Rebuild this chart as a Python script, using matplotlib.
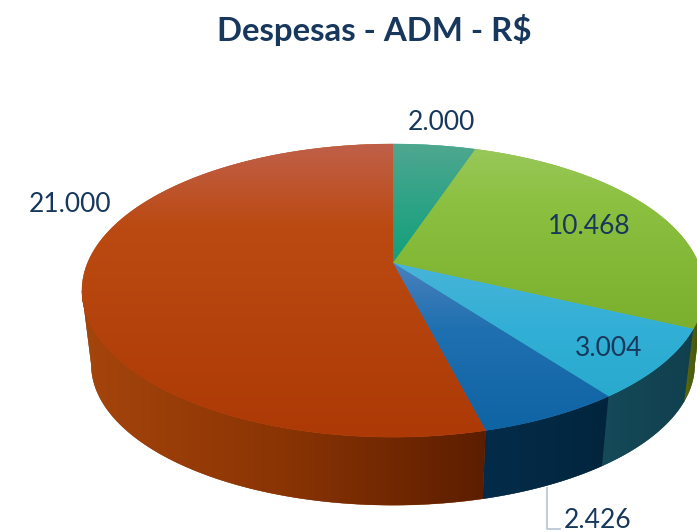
import matplotlib
matplotlib.use('Agg')
import matplotlib.pyplot as plt
import numpy as np
from matplotlib.colors import LinearSegmentedColormap
from matplotlib.patches import Polygon

# valores das despesas, sentido horario a partir do topo
valores = [2000, 10468, 3004, 2426, 21000]
rotulos = ['2.000', '10.468', '3.004', '2.426', '21.000']
titulo = 'Despesas - ADM - R$'

# cores do topo (de cima para baixo) e da lateral (da esquerda para a direita)
cores_topo = [
    [(0, '#4fa78f'), (0.5, '#2ea386'), (1, '#12a07a')],
    [(0, '#98c85a'), (0.3, '#8cc040'), (1, '#7ab02e')],
    [(0, '#48b4d8'), (0.5, '#32afd6'), (1, '#28aacd')],
    [(0, '#4a80bd'), (0.4, '#1f70b0'), (1, '#0f64a4')],
    [(0, '#c0604a'), (0.28, '#bb4a12'), (1, '#ad3a06')],
]
cores_lado = [
    ['#0b5a48', '#0b5a48'],
    ['#5a6a10', '#3e4c08'],
    ['#154a58', '#113f4e'],
    ['#042c4a', '#02253d'],
    ['#a5450c', '#8a3404', '#5c1e00'],
]

COR_TEXTO = '#17385c'
CX, CY = 393, 263
BX, AY, K = 305.5, 141.4, 0.188
ESC_X, ESC_Y, DESC = 0.97, 0.96, 75
# trecho da borda visivel de frente
VIS_INI, VIS_FIM = 101, 259


# perspectiva do disco: t em graus, 0 no topo, sentido horario
def topo(t):
    r = np.radians(t)
    u, v = np.sin(r), -np.cos(r)
    w = 1 - K * v
    return CX + BX * u / w, CY + AY * v / w


def base(t):
    r = np.radians(t)
    u, v = np.sin(r), -np.cos(r)
    w = 1 - K * v
    return CX + ESC_X * BX * u / w, CY + DESC + ESC_Y * AY * v / w


fig = plt.figure(figsize=(6.97, 5.32), dpi=100)
ax = fig.add_axes([0, 0, 1, 1])
ax.axis('off')

limites = np.concatenate([[0], np.cumsum(valores)]) / sum(valores) * 360

# linha de chamada do 2.426
ax.plot([547, 547, 560], [488, 529, 529], color='#bcc8d8', lw=1.3, zorder=1)

grad_y = np.linspace(0, 1, 256).reshape(-1, 1)
grad_x = np.linspace(0, 1, 256).reshape(1, -1)

# laterais primeiro, o topo cobre o que fica atras
for i in range(len(valores)):
    ini, fim = max(limites[i], VIS_INI), min(limites[i + 1], VIS_FIM)
    if fim <= ini:
        continue
    t = np.linspace(ini, fim, 120)
    xs, ys = topo(t)
    xb, yb = base(t)
    pts = np.column_stack([np.r_[xs, xb[::-1]], np.r_[ys, yb[::-1]]])
    cmap = LinearSegmentedColormap.from_list('lado%d' % i, cores_lado[i])
    ax.add_patch(Polygon(pts, closed=True, fc=cmap(0.5), ec=cmap(0.5), lw=0.25, zorder=1.9))
    pol = Polygon(pts, closed=True, fc='none', ec='none')
    ax.add_patch(pol)
    x0, x1 = pts[:, 0].min(), pts[:, 0].max()
    im = ax.imshow(grad_x, cmap=cmap, extent=[x0, x1, 520, 140], aspect='auto', zorder=2)
    im.set_clip_path(pol)

for i in range(len(valores)):
    t = np.linspace(limites[i], limites[i + 1], 200)
    xs, ys = topo(t)
    pts = np.column_stack([np.r_[CX, xs], np.r_[CY, ys]])
    cmap = LinearSegmentedColormap.from_list('topo%d' % i, cores_topo[i])
    ax.add_patch(Polygon(pts, closed=True, fc=cmap(0.6), ec=cmap(0.6), lw=0.25, zorder=2.9))
    pol = Polygon(pts, closed=True, fc='none', ec='none')
    ax.add_patch(pol)
    y0, y1 = pts[:, 1].min(), pts[:, 1].max()
    im = ax.imshow(grad_y, cmap=cmap, extent=[0, 697, y1, y0], aspect='auto', zorder=3)
    im.set_clip_path(pol)

ax.set_xlim(0, 697)
ax.set_ylim(532, 0)

pos_rotulos = [(441, 122), (589, 227), (609, 349), (598, 521), (70, 205)]
for txt, (x, y) in zip(rotulos, pos_rotulos):
    ax.text(x, y, txt, ha='center', va='center', fontsize=19, family='Lato',
            color=COR_TEXTO, zorder=5)

ax.text(374, 30, titulo, ha='center', va='center', fontsize=23.8, family='Lato',
        fontweight='bold', color=COR_TEXTO, zorder=5)

fig.savefig('out.png', dpi=100)
